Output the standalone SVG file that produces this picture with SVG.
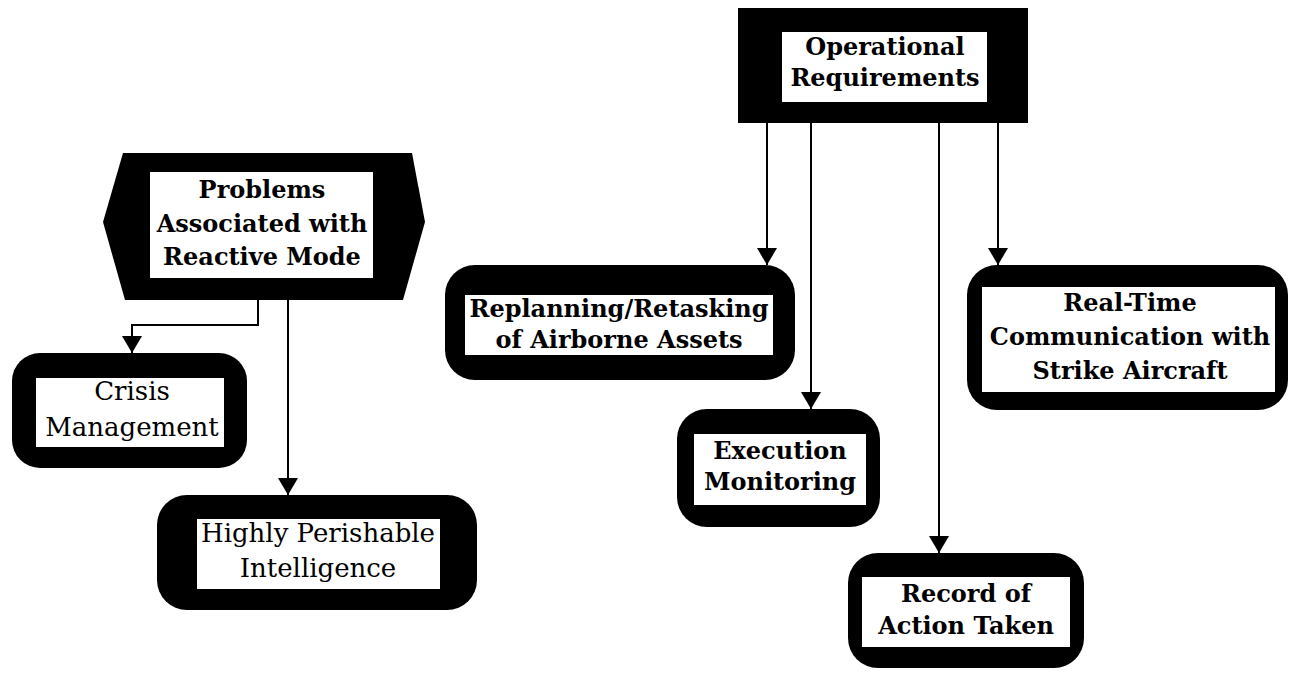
<svg xmlns="http://www.w3.org/2000/svg" width="1293" height="675" viewBox="0 0 1293 675">
  <defs>
    <marker id="arrow" viewBox="0 0 17 20" refX="17" refY="10" markerWidth="17" markerHeight="20" markerUnits="userSpaceOnUse" orient="auto">
      <path d="M0,0 L17,10 L0,20 Z" fill="#000"/>
    </marker>
  </defs>
  <style>
    .frame { fill: #000; }
    .panel { fill: #fff; }
    .bold { font-family: "DejaVu Serif", "Liberation Serif", serif; font-weight: bold; font-size: 24px; fill: #000; text-anchor: middle; }
    .plain { font-family: "DejaVu Serif", "Liberation Serif", serif; font-size: 26px; fill: #000; text-anchor: middle; }
    .link { fill: none; stroke: #000; stroke-width: 2; marker-end: url(#arrow); }
  </style>
  <rect width="1293" height="675" fill="#fff"/>

  <!-- connectors -->
  <g id="connectors">
    <polyline class="link" points="258,300 258,325 132,325 132,353"/>
    <line class="link" x1="288" y1="300" x2="288" y2="495"/>
    <line class="link" x1="767" y1="123" x2="767" y2="265"/>
    <line class="link" x1="811" y1="123" x2="811" y2="409"/>
    <line class="link" x1="939" y1="123" x2="939" y2="553"/>
    <line class="link" x1="998" y1="123" x2="998" y2="265"/>
  </g>

  <!-- hexagonal heading -->
  <g id="problems">
    <polygon class="frame" points="123,153 412,153 425,222 403,300 125,300 103,222"/>
    <rect class="panel" x="150" y="172" width="223" height="106"/>
    <text class="bold" x="262" y="198">Problems</text>
    <text class="bold" x="262" y="232">Associated with</text>
    <text class="bold" x="262" y="265">Reactive Mode</text>
  </g>

  <g id="crisis">
    <rect class="frame" x="12" y="353" width="235" height="115" rx="28"/>
    <rect class="panel" x="36" y="378" width="188" height="69"/>
    <text class="plain" x="132" y="400">Crisis</text>
    <text class="plain" x="132" y="436">Management</text>
  </g>

  <g id="perishable">
    <rect class="frame" x="157" y="495" width="320" height="115" rx="30"/>
    <rect class="panel" x="197" y="519" width="243" height="70"/>
    <text class="plain" x="318" y="542">Highly Perishable</text>
    <text class="plain" x="318" y="577">Intelligence</text>
  </g>

  <!-- rectangular heading -->
  <g id="operational">
    <rect class="frame" x="738" y="8" width="290" height="115"/>
    <rect class="panel" x="782" y="32" width="205" height="70"/>
    <text class="bold" x="885" y="55">Operational</text>
    <text class="bold" x="885" y="86">Requirements</text>
  </g>

  <g id="replanning">
    <rect class="frame" x="445" y="265" width="350" height="115" rx="30"/>
    <rect class="panel" x="465" y="295" width="308" height="60"/>
    <text class="bold" x="619" y="317">Replanning/Retasking</text>
    <text class="bold" x="619" y="348">of Airborne Assets</text>
  </g>

  <g id="execution">
    <rect class="frame" x="677" y="409" width="203" height="118" rx="30"/>
    <rect class="panel" x="694" y="434" width="172" height="71"/>
    <text class="bold" x="780" y="459">Execution</text>
    <text class="bold" x="780" y="490">Monitoring</text>
  </g>

  <g id="record">
    <rect class="frame" x="848" y="553" width="236" height="115" rx="30"/>
    <rect class="panel" x="862" y="577" width="208" height="70"/>
    <text class="bold" x="966" y="602">Record of</text>
    <text class="bold" x="966" y="634">Action Taken</text>
  </g>

  <g id="realtime">
    <rect class="frame" x="967" y="265" width="321" height="145" rx="30"/>
    <rect class="panel" x="982" y="287" width="293" height="105"/>
    <text class="bold" x="1130" y="311">Real-Time</text>
    <text class="bold" x="1130" y="345">Communication with</text>
    <text class="bold" x="1130" y="379">Strike Aircraft</text>
  </g>
</svg>
